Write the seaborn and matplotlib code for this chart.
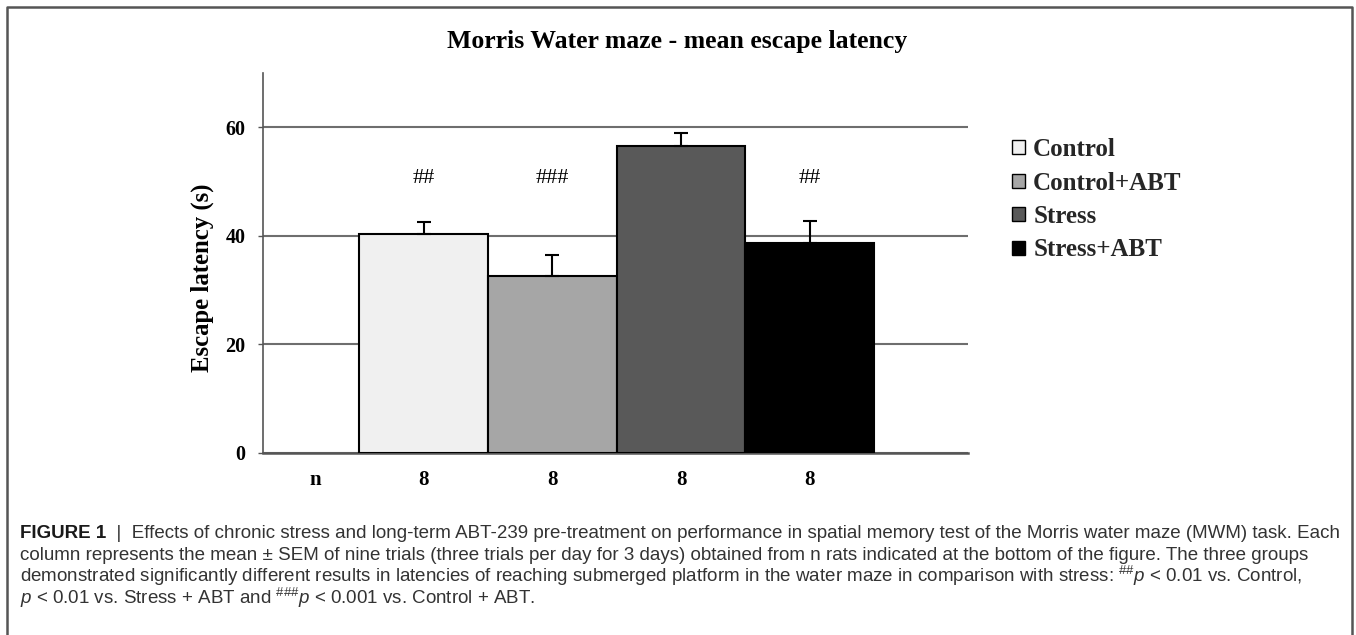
import matplotlib
matplotlib.use("Agg")
import matplotlib.pyplot as plt
import matplotlib.transforms as mtransforms
from matplotlib.patches import Patch
from matplotlib.lines import Line2D
import seaborn as sns
import numpy as np
import pandas as pd

# data
groups = ['Control', 'Control+ABT', 'Stress', 'Stress+ABT']
means = [40.4, 32.6, 56.6, 38.6]
sem = [2.2, 3.9, 2.3, 4.2]
n_rats = [8, 8, 8, 8]
signif = ['##', '###', '', '##']
colors = ['#f0f0f0', '#a6a6a6', '#595959', '#000000']

title = 'Morris Water maze - mean escape latency'
caption_head = 'FIGURE 1'
caption_lines = [
    '  |  Effects of chronic stress and long-term ABT-239 pre-treatment on performance in spatial memory test of the Morris water maze (MWM) task. Each',
    'column represents the mean \u00b1 SEM of nine trials (three trials per day for 3 days) obtained from n rats indicated at the bottom of the figure. The three groups',
    r'demonstrated significantly different results in latencies of reaching submerged platform in the water maze in comparison with stress: $^{\#\#}p$ < 0.01 vs. Control,',
    r'$p$ < 0.01 vs. Stress + ABT and $^{\#\#\#}p$ < 0.001 vs. Control + ABT.',
]

sns.set_theme(style='white')
plt.rcParams['font.family'] = ['Liberation Serif', 'DejaVu Serif']
plt.rcParams['mathtext.fontset'] = 'custom'
plt.rcParams['mathtext.rm'] = 'Liberation Sans'
plt.rcParams['mathtext.it'] = 'Liberation Sans:italic'

W, H = 1356, 635
fig = plt.figure(figsize=(W / 100, H / 100), dpi=100)
ax = fig.add_axes([263 / W, 1 - 453 / H, 705 / W, 380 / H])

df = pd.DataFrame({'group': groups, 'latency': means})
sns.barplot(data=df, x='group', y='latency', hue='group',
            palette=dict(zip(groups, colors)), width=1.0, errorbar=None,
            edgecolor='black', linewidth=1.5, legend=False, ax=ax, zorder=3)
ax.errorbar(np.arange(len(groups)), means, yerr=[np.zeros(len(sem)), sem],
            fmt='none', ecolor='black', elinewidth=1.5, capsize=5, capthick=1.5, zorder=4)

ax.set_xlim(-1.25, 4.23)
ax.set_ylim(0, 70)
ax.set_yticks([0, 20, 40, 60])
ax.set_xticks([])
ax.set_xlabel('')
ax.grid(axis='y', color='#6e6e6e', lw=1.5)
ax.set_axisbelow(True)
for s in ['top', 'right']:
    ax.spines[s].set_visible(False)
ax.spines['left'].set_color('#555555')
ax.spines['left'].set_linewidth(1.2)
ax.spines['bottom'].set_color('#555555')
ax.spines['bottom'].set_linewidth(1.8)
ax.tick_params(axis='y', left=True, length=3.6, width=1, color='#555555', pad=9,
               labelsize=14.5, labelcolor='black')
for lab in ax.get_yticklabels():
    lab.set_fontweight('bold')

ax.set_ylabel('Escape latency (s)', fontsize=17.8, fontweight='bold', color='black')
ax.yaxis.set_label_coords(-0.069, 0.46)

for i, s in enumerate(signif):
    if s:
        ax.text(i, 50.5, s, ha='center', va='center', fontsize=16, color='black')

trans = mtransforms.blended_transform_factory(ax.transData, ax.transAxes)
ax.text(-0.84, -0.072, 'n', transform=trans, ha='center', va='center',
        fontsize=15, fontweight='bold', color='black')
for i, n in enumerate(n_rats):
    ax.text(i, -0.072, str(n), transform=trans, ha='center', va='center',
            fontsize=15, fontweight='bold', color='black')

handles = [Patch(facecolor=c, edgecolor='black', lw=1.0, label=g) for g, c in zip(groups, colors)]
fig.legend(handles=handles, loc='upper left', bbox_to_anchor=(1012 / W, 1 - 138 / H),
           frameon=False, prop={'weight': 'bold', 'size': 18},
           handlelength=0.5, handleheight=0.5, handletextpad=0.35,
           labelspacing=0.42, borderpad=0, borderaxespad=0)

fig.text(677 / W, 1 - 48 / H, title, ha='center', va='baseline',
         fontsize=18.5, fontweight='bold', color='black')

# frame around figure + caption
fig.add_artist(Line2D([7 / W, 7 / W, 1352 / W, 1352 / W], [0, 1 - 7 / H, 1 - 7 / H, 0],
                      transform=fig.transFigure, color='#555555', lw=1.8))

cap_font = dict(family=['Liberation Sans', 'DejaVu Sans'], fontsize=13.5)
base_y = [538, 560, 582, 604]
t1 = fig.text(20 / W, 1 - base_y[0] / H, caption_head, va='baseline', fontweight='bold',
              color='#1a1a1a', **cap_font)
ax.annotate(caption_lines[0], xy=(1, 0), xycoords=t1, va='bottom', ha='left',
            color='#333333', annotation_clip=False, **cap_font)
for line, y in zip(caption_lines[1:], base_y[1:]):
    fig.text(20 / W, 1 - y / H, line, va='baseline', color='#333333', **cap_font)

fig.savefig('out.png', dpi=100)
